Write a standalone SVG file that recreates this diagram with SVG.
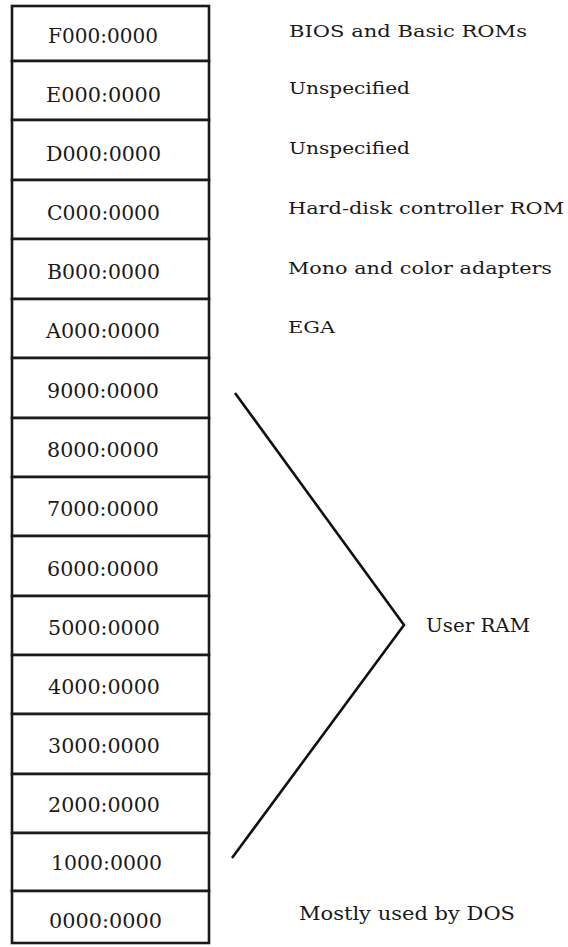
<svg xmlns="http://www.w3.org/2000/svg" width="568" height="947" viewBox="0 0 568 947">
<style>
.box{fill:#fff;stroke:#1a1a1a;stroke-width:2.6}
.addr{font-family:"DejaVu Serif","Liberation Serif",serif;font-size:19.5px;fill:#1a1a1a;text-anchor:start}
.lbl{font-family:"DejaVu Serif","Liberation Serif",serif;font-size:17.5px;fill:#1a1a1a}
.big{font-size:18.5px}
.conn{fill:none;stroke:#111;stroke-width:2.6;stroke-linejoin:miter}
</style>
<rect width="568" height="947" fill="#fff"/>
<g id="rows">
<g id="rF000"><rect class="box" x="12" y="6" width="197" height="55"/><text class="addr" x="48" y="43" textLength="110" lengthAdjust="spacingAndGlyphs">F000:0000</text></g>
<g id="rE000"><rect class="box" x="12" y="61" width="197" height="59"/><text class="addr" x="46" y="102" textLength="115" lengthAdjust="spacingAndGlyphs">E000:0000</text></g>
<g id="rD000"><rect class="box" x="12" y="120" width="197" height="60"/><text class="addr" x="46" y="161" textLength="115" lengthAdjust="spacingAndGlyphs">D000:0000</text></g>
<g id="rC000"><rect class="box" x="12" y="180" width="197" height="59"/><text class="addr" x="47" y="220" textLength="113" lengthAdjust="spacingAndGlyphs">C000:0000</text></g>
<g id="rB000"><rect class="box" x="12" y="239" width="197" height="60"/><text class="addr" x="47" y="279" textLength="113" lengthAdjust="spacingAndGlyphs">B000:0000</text></g>
<g id="rA000"><rect class="box" x="12" y="299" width="197" height="59"/><text class="addr" x="46" y="338" textLength="114" lengthAdjust="spacingAndGlyphs">A000:0000</text></g>
<g id="r9000"><rect class="box" x="12" y="358" width="197" height="60"/><text class="addr" x="47" y="398" textLength="112" lengthAdjust="spacingAndGlyphs">9000:0000</text></g>
<g id="r8000"><rect class="box" x="12" y="418" width="197" height="59"/><text class="addr" x="47" y="457" textLength="112" lengthAdjust="spacingAndGlyphs">8000:0000</text></g>
<g id="r7000"><rect class="box" x="12" y="477" width="197" height="59"/><text class="addr" x="47" y="516" textLength="112" lengthAdjust="spacingAndGlyphs">7000:0000</text></g>
<g id="r6000"><rect class="box" x="12" y="536" width="197" height="60"/><text class="addr" x="47" y="576" textLength="112" lengthAdjust="spacingAndGlyphs">6000:0000</text></g>
<g id="r5000"><rect class="box" x="12" y="596" width="197" height="59"/><text class="addr" x="48" y="635" textLength="112" lengthAdjust="spacingAndGlyphs">5000:0000</text></g>
<g id="r4000"><rect class="box" x="12" y="655" width="197" height="59"/><text class="addr" x="48" y="694" textLength="112" lengthAdjust="spacingAndGlyphs">4000:0000</text></g>
<g id="r3000"><rect class="box" x="12" y="714" width="197" height="60"/><text class="addr" x="48" y="753" textLength="112" lengthAdjust="spacingAndGlyphs">3000:0000</text></g>
<g id="r2000"><rect class="box" x="12" y="774" width="197" height="59"/><text class="addr" x="48" y="812" textLength="112" lengthAdjust="spacingAndGlyphs">2000:0000</text></g>
<g id="r1000"><rect class="box" x="12" y="833" width="197" height="58"/><text class="addr" x="51" y="870" textLength="111" lengthAdjust="spacingAndGlyphs">1000:0000</text></g>
<g id="r0000"><rect class="box" x="12" y="891" width="197" height="52"/><text class="addr" x="49" y="928" textLength="113" lengthAdjust="spacingAndGlyphs">0000:0000</text></g>
</g>
<g id="labels">
<text id="lF" class="lbl" x="289" y="37" textLength="238" lengthAdjust="spacingAndGlyphs">BIOS and Basic ROMs</text>
<text id="lE" class="lbl" x="289" y="94" textLength="121" lengthAdjust="spacingAndGlyphs">Unspecified</text>
<text id="lD" class="lbl" x="289" y="154" textLength="121" lengthAdjust="spacingAndGlyphs">Unspecified</text>
<text id="lC" class="lbl" x="288" y="214" textLength="276" lengthAdjust="spacingAndGlyphs">Hard-disk controller ROM</text>
<text id="lB" class="lbl" x="288" y="274" textLength="264" lengthAdjust="spacingAndGlyphs">Mono and color adapters</text>
<text id="lA" class="lbl" x="288" y="333" textLength="47" lengthAdjust="spacingAndGlyphs">EGA</text>
<text id="lRAM" class="lbl big" x="426" y="632" textLength="104" lengthAdjust="spacingAndGlyphs">User RAM</text>
<text id="lDOS" class="lbl big" x="299" y="920" textLength="216" lengthAdjust="spacingAndGlyphs">Mostly used by DOS</text>
</g>
<g id="connectors">
<polyline class="conn" points="235,393 404,625 232,858"/>
</g>
</svg>
